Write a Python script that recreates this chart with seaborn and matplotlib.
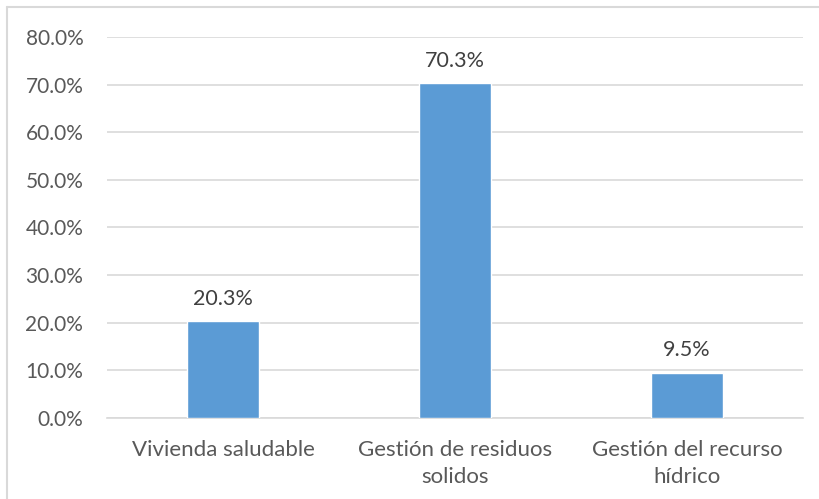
import matplotlib
matplotlib.use("Agg")
import matplotlib.pyplot as plt
import seaborn as sns
import pandas as pd
from matplotlib.lines import Line2D
from matplotlib.ticker import FuncFormatter

# data
categorias = ["Vivienda saludable", "Gestión de residuos\nsolidos", "Gestión del recurso\nhídrico"]
porcentajes = [20.3, 70.3, 9.5]
y_ticks = [0, 10, 20, 30, 40, 50, 60, 70, 80]

df = pd.DataFrame({"cat": categorias, "pct": porcentajes})

sns.set_style("white")
plt.rcParams["font.family"] = ["Lato", "DejaVu Sans"]

fig = plt.figure(figsize=(8.19, 4.99), dpi=100)
ax = fig.add_axes([0.1306, 0.1623, 0.8499, 0.7636])

sns.barplot(data=df, x="cat", y="pct", color="#5B9BD5", saturation=1,
            width=0.31, ax=ax, zorder=3)

ax.set_ylim(0, 80)
ax.set_yticks(y_ticks)
ax.yaxis.set_major_formatter(FuncFormatter(lambda v, p: f"{v:.1f}%"))
ax.grid(axis="y", color="#D9D9D9", linewidth=1.2, zorder=0)
ax.set_axisbelow(True)
for s in ["top", "right", "left"]:
    ax.spines[s].set_visible(False)
ax.spines["bottom"].set_color("#D9D9D9")
ax.spines["bottom"].set_linewidth(1.2)
ax.tick_params(axis="y", length=0, labelsize=15, labelcolor="#595959", pad=17)
ax.tick_params(axis="x", length=0, labelsize=16, labelcolor="#595959", pad=16)
for lbl in ax.get_xticklabels():
    lbl.set_linespacing(1.4)
ax.set_xlabel("")
ax.set_ylabel("")

for i, v in enumerate(porcentajes):
    ax.annotate(f"{v:.1f}%", (i, v), xytext=(0, 9), textcoords="offset points",
                ha="center", va="bottom", fontsize=15.5, color="#404040")

# chart border (top and left visible)
fig.add_artist(Line2D([0.0085, 1.0], [0.986, 0.986], color="#D9D9D9", linewidth=1.5))
fig.add_artist(Line2D([0.0085, 0.0085], [0.0, 0.986], color="#D9D9D9", linewidth=1.5))

fig.savefig("out.png", dpi=100)
